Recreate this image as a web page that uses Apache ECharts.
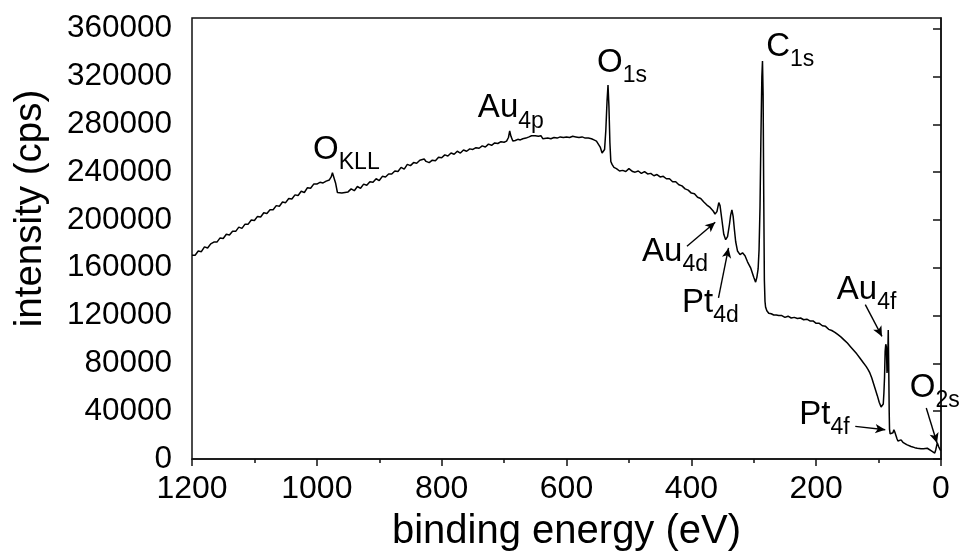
<!DOCTYPE html>
<html>
<head>
<meta charset="utf-8">
<script src="https://cdn.jsdelivr.net/npm/echarts@6/dist/echarts.min.js"></script>
<style>
html,body{margin:0;padding:0;background:#fff;}
#c{width:960px;height:551px;}
</style>
</head>
<body>
<div id="c"></div>
<script>
// binding energy (eV)
const energy = [
1200,1195,1190,1185,1180,1175,1170,1165,1160,1155,1150,1145,1140,1135,1130,1125,1120,1115,1110,1105,
1100,1095,1090,1085,1080,1075,1070,1065,1060,1055,1050,1045,1040,1035,1030,1025,1020,1015,1010,1005,
1000,995,990,985,980,977,975,973,970,967,964,960,955,950,945,940,935,930,925,920,
915,910,905,900,895,890,885,880,875,870,865,860,855,850,845,840,835,832,828,825,
820,815,810,805,800,795,790,785,780,775,770,765,760,755,750,745,740,735,730,725,
720,715,710,705,700,696,693,691,689,686,682,678,674,670,665,660,656,650,645,641,
638,635,630,625,620,615,610,605,600,595,590,585,580,575,570,565,560,556,552,549,
546,543,541,539,537,535,533.5,532,530.5,529,527,524,520,515,510,505,500,497,494,490,
485,480,475,470,465,460,455,450,445,440,435,430,425,420,415,410,405,400,395,390,
385,380,375,370,365,362,359,356,354,351,348,345,342,339,337,335,333,331,329,326,
322,318,314,310,305,300,297,295,293,291.5,290,288.5,287,286,285,284,283,282,281,279,
276,272,268,264,260,255,250,245,240,235,230,225,220,215,210,205,200,195,190,185,
180,175,170,165,160,155,150,145,140,135,130,125,120,117,114,111,108,105,102,99,
96,94,92.5,91.5,90.5,89.5,88.5,87.5,86.5,85.5,84.5,83.8,83,82.5,81.5,80,78.5,77,75.5,74,
72,70.5,69,67,64,61,58,55,52,48,45,42,38,35,32,28,25,22,19,16,
13,10,8.5,7,6,5,3.5,2,0.5
];
// intensity (thousand cps)
const intensityK = [
170.5,170.5,174,173.5,177.5,176.5,180,181.5,181.5,185,184.5,188,187.5,190.5,190.5,194,193,196.5,196.5,200,
199.5,203,202.5,206,205.5,208.5,208.5,212,211.5,215,214.5,218,217.5,221,220.5,224,223,227,226.5,230,
230,231.5,231,232.5,233.5,236,239.5,238,231,223,221.5,222.5,223,223.5,226,224.5,228,226.5,230,229,
232,231.5,234.5,233,236.5,236,238.5,238.5,241,240.5,244,242.5,246.5,245.5,248,247.5,250,251.5,251,249,
248,250,249.5,252.5,252,254.5,253.5,256,255,257.5,256,258.5,257.5,259.5,259,260.5,260,262,261,263.5,
262.5,264.5,264,265.5,265,266,269,274.5,270,266,266.5,267.5,267,268,268.5,269.5,270.5,270.5,270,270.5,
268,267.5,268.5,268,269,268.5,269.5,269,269.5,269,270,269.5,269,269.5,268.5,268.5,268,267,266,264.5,
261,256,254.5,259,275,300,313,295,265,249,246.5,244,243,241,241.5,240.5,243,242,240.5,240,
241,239,240.5,238.5,239,237,238,236,236.5,234.5,234.5,232,232,229.5,228.5,226,225,222.5,222,219,
218,215,212.5,210.5,207.5,205,207,214.5,212,200,188,183.5,186,196,204,208.5,203,192,182,174,
171,172.5,170,165,160,152,148,152,159,175,210,270,320,333,305,220,150,132,127,124,
122,121.5,120.5,120.5,120,120,118.5,119.5,118,118.5,117.5,118,116.5,117,115.5,115.5,113.5,113.5,111.5,111,
108.5,107.5,106,104,102,99.5,97,94,91,88,84.5,81,77.5,75,72,68,63,58,53,47.5,
43.5,42.5,46,55,68,90,96,94,72,78,108,80,40,25,21,22,20.5,22,24.5,22.5,
21,17,15,14.5,16,14,13,12,11,10.5,9.5,9.5,9,9.5,8.5,8.5,8.5,9,8,7,
5.5,5,7.5,11,13.5,12.5,10,8.5,7
];

const xTicks = [0, 200, 400, 600, 800, 1000, 1200];
const yTicks = [0, 40000, 80000, 120000, 160000, 200000, 240000, 280000, 320000, 360000];

// peak annotations: main symbol, subscript, anchor (energy, intensity)
const peakMain = ['O', 'Au', 'O', 'C', 'Au', 'Pt', 'Au', 'Pt', 'O'];
const peakSub  = ['KLL', '4p', '1s', '1s', '4d', '4d', '4f', '4f', '2s'];
const peakE    = [1006, 742, 551, 280, 479, 415, 167, 227, 50];
const peakI    = [238000, 273000, 310900, 324700, 153000, 109900, 120800, 16200, 38800];

// arrows: [startE, startI, tipE, tipI]
const arrows = [
  [407, 178000, 361.7, 198100],
  [356.5, 134800, 340.4, 176600],
  [121.3, 129200, 94.6, 102600],
  [137.4, 27300, 89.3, 24500],
  [23.6, 42700, 6.4, 13400]
];

const spectrum = energy.map((e, i) => [e, intensityK[i] * 1000]);
const labelData = peakMain.map((m, i) => ({ value: [peakE[i], peakI[i]], m: m, s: peakSub[i] }));
const font = "'Liberation Sans', Arial, sans-serif";

const chart = echarts.init(document.getElementById('c'));
chart.setOption({
  animation: false,
  backgroundColor: '#fff',
  grid: { left: 192, right: 19, top: 18, bottom: 92, outerBoundsMode: 'none', containLabel: false,
    show: true, borderColor: '#111', borderWidth: 1.5, backgroundColor: 'transparent' },
  xAxis: {
    type: 'value', min: 0, max: 1200, interval: 200, inverse: true,
    name: 'binding energy (eV)', nameLocation: 'middle', nameGap: 53,
    nameTextStyle: { fontFamily: font, fontSize: 40, color: '#000' },
    axisLine: { show: true, lineStyle: { color: '#111', width: 1.5 } },
    axisTick: { show: true, inside: false, length: 7, lineStyle: { color: '#111', width: 1.5 } },
    minorTick: { show: true, splitNumber: 2, length: 4, lineStyle: { color: '#111', width: 1.5 } },
    splitLine: { show: false },
    axisLabel: { fontFamily: font, fontSize: 32, color: '#000', margin: 14,
      customValues: xTicks, formatter: v => String(v) }
  },
  yAxis: {
    type: 'value', min: 0, max: 369000, interval: 40000,
    name: 'intensity (cps)', nameLocation: 'middle', nameGap: 142,
    nameTextStyle: { fontFamily: font, fontSize: 38.5, color: '#000', padding: [0, 0, 0, 60] },
    axisLine: { show: true, lineStyle: { color: '#111', width: 1.5 } },
    axisTick: { show: true, inside: false, length: 8, customValues: yTicks, lineStyle: { color: '#111', width: 1.5 } },
    splitLine: { show: false },
    axisLabel: { fontFamily: font, fontSize: 31.5, color: '#000', margin: 20,
      customValues: yTicks, formatter: v => String(v) }
  },
  series: [
    {
      type: 'line', data: spectrum, showSymbol: false, symbol: 'none',
      lineStyle: { color: '#000', width: 1.5 }, z: 3,
      markLine: {
        silent: true, symbol: ['none', 'arrow'], symbolSize: [7, 10],
        lineStyle: { color: '#000', width: 1.4, type: 'solid' },
        label: { show: false },
        data: arrows.map(a => [{ coord: [a[0], a[1]] }, { coord: [a[2], a[3]] }])
      }
    },
    {
      type: 'scatter', data: labelData, symbolSize: 0, silent: true, z: 4,
      itemStyle: { opacity: 1, color: '#000' },
      label: {
        show: true, position: 'inside', align: 'left', verticalAlign: 'bottom',
        textBorderWidth: 0, color: '#000', opacity: 1,
        formatter: p => '{m|' + p.data.m + '}{s|' + p.data.s + '}',
        rich: {
          m: { fontFamily: font, fontSize: 33, color: '#000', textBorderWidth: 0, verticalAlign: 'bottom', padding: [0, 0, 8, 0] },
          s: { fontFamily: font, fontSize: 23, color: '#000', textBorderWidth: 0, verticalAlign: 'bottom' }
        }
      }
    }
  ]
});
</script>
</body>
</html>
